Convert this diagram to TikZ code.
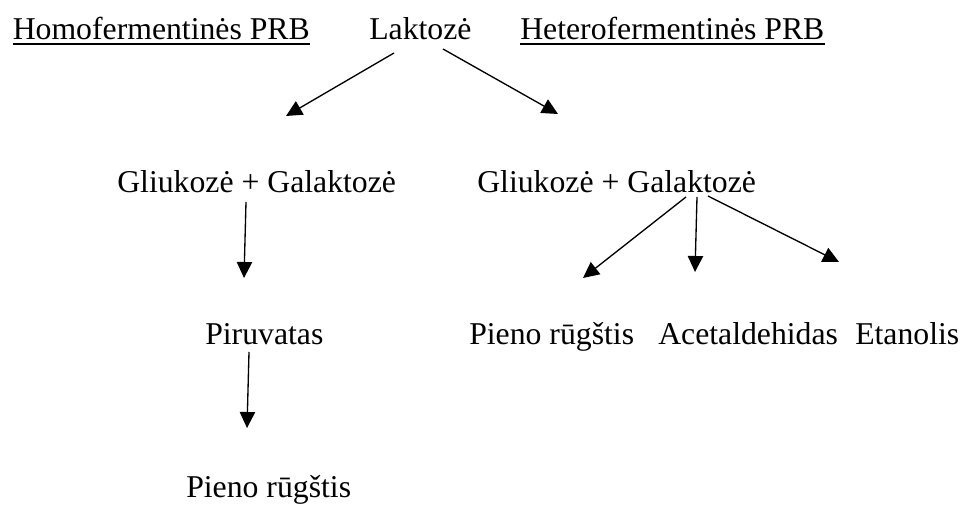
\documentclass[tikz,border=0pt]{standalone}
\usepackage{fontspec}
\setmainfont{Liberation Serif}
\usetikzlibrary{arrows.meta,calc}
\tikzset{
  lbl/.style={anchor=base west,inner sep=0pt,font=\fontsize{23.8}{28}\selectfont},
  arr/.style={line width=1pt,-{Triangle[width=11.5pt,length=12pt]}},
  uline/.style={line width=1.2pt}
}
\begin{document}
\begin{tikzpicture}[x=0.75pt,y=-0.75pt]
\useasboundingbox (0,0) rectangle (963,505);
% texts
\node[lbl] (homo) at (12.5,40) {Homofermentinės PRB};
\node[lbl] (lak) at (369,40) {Laktozė};
\node[lbl] (het) at (520,40) {Heterofermentinės PRB};
\node[lbl] (g1) at (117,193) {Gliukozė + Galaktozė};
\node[lbl] (g2) at (477,193) {Gliukozė + Galaktozė};
\node[lbl] (piru) at (205,345) {Piruvatas};
\node[lbl] (p2) at (469,345) {Pieno rūgštis};
\node[lbl] (acet) at (658,345) {Acetaldehidas};
\node[lbl] (etan) at (855,345) {Etanolis};
\node[lbl] (p1) at (186,497) {Pieno rūgštis};
% underlines
\draw[uline] ($(homo.base west)+(0,4)$) -- ($(homo.base east)+(0,4)$);
\draw[uline] ($(het.base west)+(0,4)$) -- ($(het.base east)+(0,4)$);
% arrow end points
\coordinate (a1s) at (394,53);  \coordinate (a1e) at (286,116);
\coordinate (a2s) at (443,49);  \coordinate (a2e) at (558,114);
\coordinate (a3s) at (246,202); \coordinate (a3e) at (244,278);
\coordinate (a4s) at (249,352); \coordinate (a4e) at (247,428);
\coordinate (a5s) at (686,197); \coordinate (a5e) at (583,278);
\coordinate (a6s) at (697,197); \coordinate (a6e) at (695,272);
\coordinate (a7s) at (708,196); \coordinate (a7e) at (839,262);
% arrows
\draw[arr] (a1s) -- (a1e);
\draw[arr] (a2s) -- (a2e);
\draw[arr] (a3s) -- (a3e);
\draw[arr] (a4s) -- (a4e);
\draw[arr] (a5s) -- (a5e);
\draw[arr] (a6s) -- (a6e);
\draw[arr] (a7s) -- (a7e);
\end{tikzpicture}
\end{document}
